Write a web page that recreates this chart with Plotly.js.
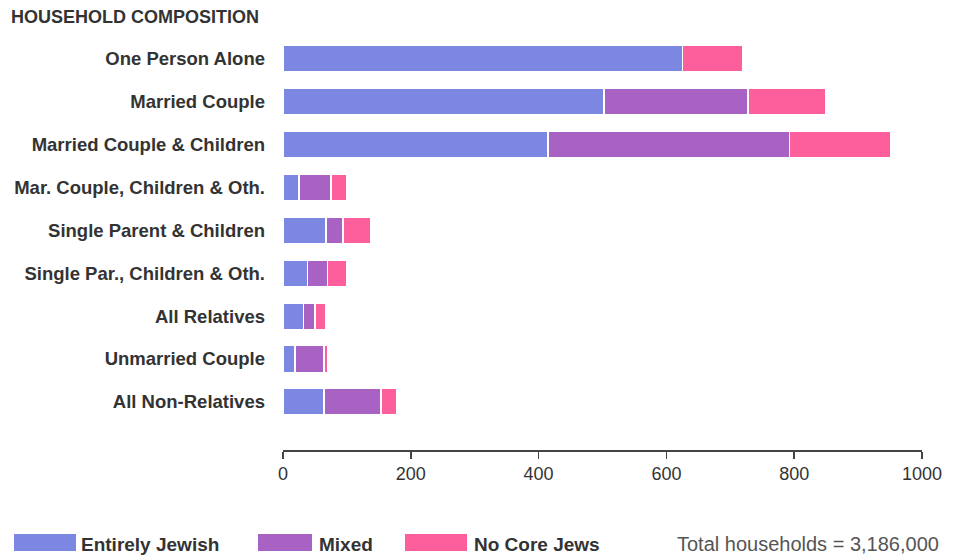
<!DOCTYPE html>
<html><head><meta charset="utf-8">
<script src="https://cdn.plot.ly/plotly-3.0.1.min.js"></script>
<style>html,body{margin:0;padding:0;background:#fff;}#chart{width:957px;height:559px;}</style>
</head><body><div id="chart"></div>
<script>
const categories = ["One Person Alone","Married Couple","Married Couple & Children","Mar. Couple, Children & Oth.","Single Parent & Children","Single Par., Children & Oth.","All Relatives","Unmarried Couple","All Non-Relatives"];
const entirelyJewish = [625, 502, 415, 25, 67, 38, 32, 19, 64];
const mixed = [0, 226, 378, 50, 27, 32, 18, 45, 89];
const noCoreJews = [95, 122, 158, 24, 44, 29, 17, 6, 25];
const seriesNames = ["Entirely Jewish","Mixed","No Core Jews"];
const colors = ["#7b87e0","#a862c4","#fd5e9c"];
const xTicks = [0,200,400,600,800,1000];
const totalLabel = "Total households = 3,186,000";

const seriesVals = [entirelyJewish, mixed, noCoreJews];
const traces = seriesVals.map((v,i)=>({
  type:'bar', orientation:'h', y:categories, x:v, name:seriesNames[i],
  marker:{color:colors[i], line:{color:'#ffffff', width:1.5}},
  width:0.62, showlegend:false, hoverinfo:'x+y+name'
}));

const font = "Liberation Sans, Arial, sans-serif";
const H = 450 - 36.5;
const py = y => (450 - y) / H;
const px = x => (x - 283) / 639;
const shapes = [], annotations = [];
const legendPos = [{x0:14,x1:76,tx:79},{x0:258,x1:312,tx:317},{x0:405,x1:467,tx:472}];
legendPos.forEach((p,i)=>{
  shapes.push({type:'rect', xref:'paper', yref:'paper', x0:px(p.x0), x1:px(p.x1),
    y0:py(551), y1:py(534), fillcolor:colors[i], line:{width:0}});
  annotations.push({xref:'paper', yref:'paper', x:px(p.tx), y:py(545), xanchor:'left', yanchor:'middle',
    text:seriesNames[i], showarrow:false, font:{family:font, size:19, color:'#333', weight:'bold'}});
});
annotations.push({xref:'paper', yref:'paper', x:px(941), y:py(544), xanchor:'right', yanchor:'middle',
  text:totalLabel, showarrow:false, font:{family:font, size:20, color:'#555'}});
annotations.push({xref:'paper', yref:'paper', x:px(9), y:py(16), xanchor:'left', yanchor:'middle',
  text:"HOUSEHOLD COMPOSITION", showarrow:false, font:{family:font, size:18, color:'#333', weight:'bold'}});

const layout = {
  width:957, height:559,
  margin:{l:283, r:35, t:36.5, b:109},
  barmode:'stack', bargap:0.38,
  paper_bgcolor:'#fff', plot_bgcolor:'#fff',
  font:{family:font, color:'#333'},
  xaxis:{range:[0,1000], tickvals:xTicks, ticktext:xTicks.map(String), showgrid:false, zeroline:false,
    showline:true, linecolor:'#444', linewidth:1.5, ticks:'outside', ticklen:7, tickcolor:'#444', tickwidth:1.5,
    tickfont:{family:font, size:18, color:'#333'}},
  yaxis:{type:'category', range:[9.12,-0.5], showgrid:false, zeroline:false, showline:false, ticks:'',
    ticklabelstandoff:17, tickfont:{family:font, size:18.5, color:'#333', weight:'bold'}},
  shapes:shapes, annotations:annotations
};
Plotly.newPlot('chart', traces, layout, {displayModeBar:false, staticPlot:true});
</script></body></html>
